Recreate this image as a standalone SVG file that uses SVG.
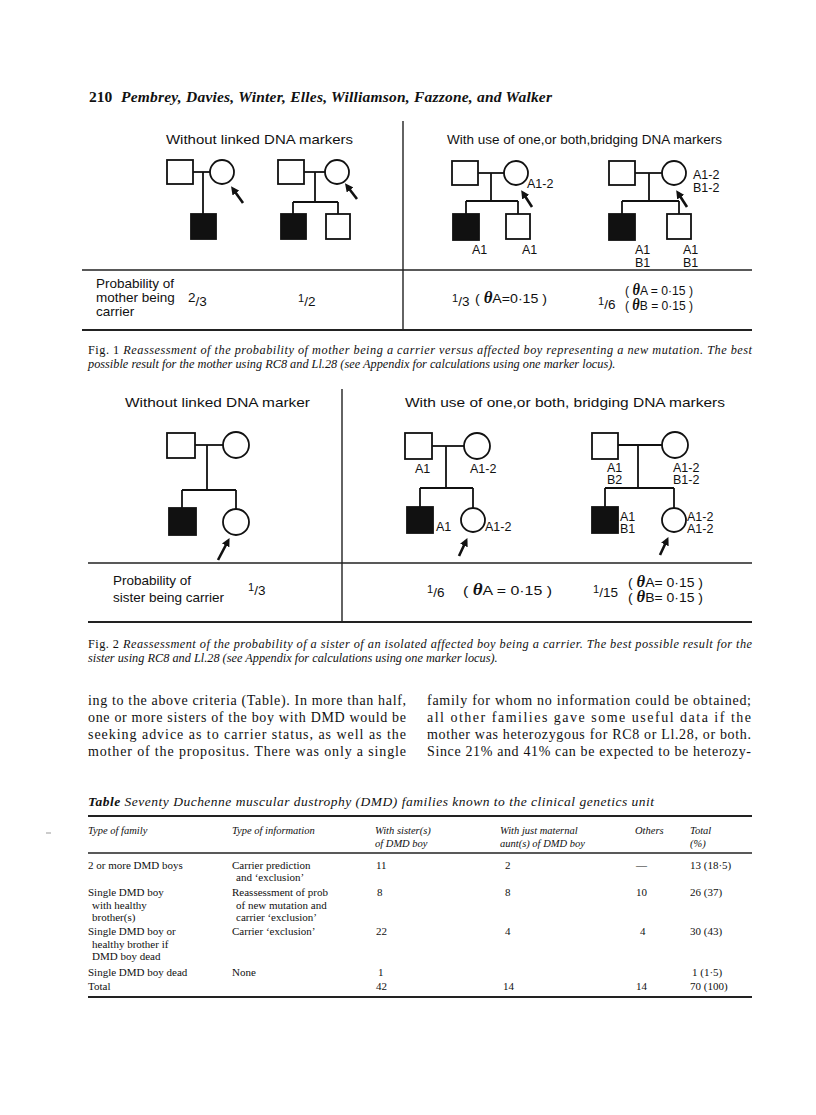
<svg xmlns="http://www.w3.org/2000/svg" width="816" height="1115" viewBox="0 0 816 1115">
<style>
.bg{fill:#ffffff}
.ln{stroke:#111;stroke-width:1.8;fill:none}
.rule{stroke:#222;stroke-width:1.4;fill:none}
.thick{stroke:#222;stroke-width:2;fill:none}
.open{fill:#fff;stroke:#111;stroke-width:1.8}
.fill{fill:#111;stroke:#111;stroke-width:1.8}
.arr{stroke:#111;stroke-width:2.6;fill:none}
.fs{font-family:"Liberation Sans","DejaVu Sans",sans-serif;fill:#111}
.t{font-size:13.5px}
.lab{font-size:12.5px}
.th{font-family:"Liberation Serif","DejaVu Serif",serif;font-style:italic;font-weight:bold;font-size:16px}
.serif{font-family:"Liberation Serif","DejaVu Serif",serif;fill:#111}
.cap{font-size:12.3px;font-style:italic}
.body{font-size:14px}
.tb{font-size:11px}
.tbh{font-size:10.5px;font-style:italic}
</style>
<defs>
<marker id="ah" viewBox="0 0 10 10" refX="6" refY="5" markerWidth="3.2" markerHeight="3.2" orient="auto" markerUnits="strokeWidth">
<path d="M0,0 L10,5 L0,10 z" fill="#111"/>
</marker>
</defs>
<rect class="bg" x="0" y="0" width="816" height="1115"/>

<g id="header">
<text class="serif" x="89" y="102" font-size="15.5" font-weight="bold">210</text>
<text class="serif" x="121" y="102" font-size="15.5" font-weight="bold" font-style="italic" textLength="431" lengthAdjust="spacing">Pembrey, Davies, Winter, Elles, Williamson, Fazzone, and Walker</text>
</g>

<!-- Figure 1 frame -->
<g id="fig1-frame">
<line class="rule" x1="403" y1="121" x2="403" y2="331"/>
<line class="rule" x1="82" y1="270" x2="752" y2="270"/>
<line class="thick" x1="82" y1="330" x2="752" y2="330"/>
</g>
<g id="fig1-titles">
<text class="fs t" x="166" y="144" textLength="187" lengthAdjust="spacingAndGlyphs">Without linked DNA markers</text>
<text class="fs t" x="447" y="144" textLength="275" lengthAdjust="spacingAndGlyphs">With use of one,or both,bridging DNA markers</text>
</g>

<g id="connectors">
<!-- P1 -->
<line class="ln" x1="193" y1="172" x2="210" y2="172"/>
<line class="ln" x1="203" y1="172" x2="203" y2="214"/>
<!-- P2 -->
<line class="ln" x1="304" y1="172" x2="325" y2="172"/>
<line class="ln" x1="315" y1="172" x2="315" y2="202"/>
<line class="ln" x1="293" y1="202" x2="338" y2="202"/>
<line class="ln" x1="293" y1="202" x2="293" y2="214"/>
<line class="ln" x1="338" y1="202" x2="338" y2="214"/>
<!-- P3 -->
<line class="ln" x1="478" y1="173" x2="504" y2="173"/>
<line class="ln" x1="491" y1="173" x2="491" y2="201"/>
<line class="ln" x1="466" y1="201" x2="518" y2="201"/>
<line class="ln" x1="466" y1="201" x2="466" y2="214"/>
<line class="ln" x1="518" y1="201" x2="518" y2="214"/>
<!-- P4 -->
<line class="ln" x1="635" y1="173" x2="662" y2="173"/>
<line class="ln" x1="649" y1="173" x2="649" y2="201"/>
<line class="ln" x1="622" y1="201" x2="679" y2="201"/>
<line class="ln" x1="622" y1="201" x2="622" y2="214"/>
<line class="ln" x1="679" y1="201" x2="679" y2="214"/>
<!-- P5 -->
<line class="ln" x1="195" y1="445" x2="223" y2="445"/>
<line class="ln" x1="207" y1="445" x2="207" y2="490"/>
<line class="ln" x1="182" y1="490" x2="236" y2="490"/>
<line class="ln" x1="182" y1="490" x2="182" y2="508"/>
<line class="ln" x1="236" y1="490" x2="236" y2="509"/>
<!-- P6 -->
<line class="ln" x1="432" y1="446" x2="464" y2="446"/>
<line class="ln" x1="446" y1="446" x2="446" y2="488"/>
<line class="ln" x1="420" y1="488" x2="473" y2="488"/>
<line class="ln" x1="420" y1="488" x2="420" y2="507"/>
<line class="ln" x1="473" y1="488" x2="473" y2="508"/>
<!-- P7 -->
<line class="ln" x1="618" y1="445" x2="662" y2="445"/>
<line class="ln" x1="638" y1="445" x2="638" y2="488"/>
<line class="ln" x1="605" y1="488" x2="674" y2="488"/>
<line class="ln" x1="605" y1="488" x2="605" y2="507"/>
<line class="ln" x1="674" y1="488" x2="674" y2="508"/>
<!-- arrows -->
<line class="arr" x1="243" y1="203" x2="233" y2="189" marker-end="url(#ah)"/>
<line class="arr" x1="357" y1="199" x2="347" y2="186" marker-end="url(#ah)"/>
<line class="arr" x1="532" y1="207" x2="523" y2="193" marker-end="url(#ah)"/>
<line class="arr" x1="687" y1="207" x2="678" y2="193" marker-end="url(#ah)"/>
<line class="arr" x1="218" y1="560" x2="228" y2="541" marker-end="url(#ah)"/>
<line class="arr" x1="459" y1="556" x2="466" y2="541" marker-end="url(#ah)"/>
<line class="arr" x1="660" y1="555" x2="667" y2="540" marker-end="url(#ah)"/>
</g>

<g id="ped1">
<rect class="open" x="167" y="160" width="26" height="24"/>
<circle class="open" cx="222" cy="172" r="12"/>
<rect class="fill" x="191" y="214" width="25" height="25"/>
</g>
<g id="ped2">
<rect class="open" x="278" y="160" width="26" height="24"/>
<circle class="open" cx="337" cy="172" r="12"/>
<rect class="fill" x="281" y="214" width="25" height="25"/>
<rect class="open" x="326" y="214" width="24" height="25"/>
</g>
<g id="ped3">
<rect class="open" x="452" y="161" width="26" height="24"/>
<circle class="open" cx="516" cy="173" r="12"/>
<rect class="fill" x="453" y="214" width="26" height="26"/>
<rect class="open" x="506" y="214" width="24" height="25"/>
<text class="fs lab" x="527" y="188">A1-2</text>
<text class="fs lab" x="472" y="254">A1</text>
<text class="fs lab" x="522" y="254">A1</text>
</g>
<g id="ped4">
<rect class="open" x="609" y="161" width="26" height="24"/>
<circle class="open" cx="674" cy="173" r="12"/>
<rect class="fill" x="609" y="214" width="26" height="26"/>
<rect class="open" x="667" y="214" width="24" height="25"/>
<text class="fs lab" x="693" y="179">A1-2</text>
<text class="fs lab" x="693" y="192">B1-2</text>
<text class="fs lab" x="635" y="254">A1</text>
<text class="fs lab" x="635" y="267">B1</text>
<text class="fs lab" x="683" y="254">A1</text>
<text class="fs lab" x="683" y="267">B1</text>
</g>

<g id="fig1-probabilities">
<text class="fs t" x="96" y="288">Probability of</text>
<text class="fs t" x="96" y="302">mother being</text>
<text class="fs t" x="96" y="316">carrier</text>
<text class="fs t" x="188" y="302">2<tspan dy="4">/3</tspan></text>
<text class="fs t" x="298" y="306"><tspan font-size="11" dy="-4">1</tspan><tspan dy="4">/2</tspan></text>
<text class="fs t" x="452" y="306"><tspan font-size="11" dy="-4">1</tspan><tspan dy="4">/3</tspan></text>
<text class="fs t" x="475" y="303" textLength="72" lengthAdjust="spacingAndGlyphs">( <tspan class="th">θ</tspan>A=0·15 )</text>
<text class="fs t" x="598" y="309"><tspan font-size="11" dy="-4">1</tspan><tspan dy="4">/6</tspan></text>
<text class="fs t" x="625" y="295" textLength="68" lengthAdjust="spacingAndGlyphs">( <tspan class="th">θ</tspan>A = 0·15 )</text>
<text class="fs t" x="625" y="310" textLength="68" lengthAdjust="spacingAndGlyphs">( <tspan class="th">θ</tspan>B = 0·15 )</text>
</g>

<g id="fig1-caption">
<text class="serif cap" x="88" y="354" textLength="664" lengthAdjust="spacing"><tspan font-style="normal">Fig. 1</tspan>   Reassessment of the probability of mother being a carrier versus affected boy representing a new mutation. The best</text>
<text class="serif cap" x="88" y="368">possible result for the mother using RC8 and Ll.28 (see Appendix for calculations using one marker locus).</text>
</g>

<!-- Figure 2 frame -->
<g id="fig2-frame">
<line class="rule" x1="342" y1="389" x2="342" y2="623"/>
<line class="rule" x1="88" y1="563" x2="752" y2="563"/>
<line class="thick" x1="88" y1="622" x2="752" y2="622"/>
</g>
<g id="fig2-titles">
<text class="fs t" x="125" y="407" textLength="185" lengthAdjust="spacingAndGlyphs">Without linked DNA marker</text>
<text class="fs t" x="405" y="407" textLength="320" lengthAdjust="spacingAndGlyphs">With use of one,or both, bridging DNA markers</text>
</g>

<g id="ped5">
<rect class="open" x="167" y="433" width="28" height="25"/>
<circle class="open" cx="236" cy="445" r="13"/>
<rect class="fill" x="169" y="508" width="27" height="27"/>
<circle class="open" cx="236" cy="522" r="13"/>
</g>
<g id="ped6">
<rect class="open" x="405" y="433" width="27" height="26"/>
<circle class="open" cx="477" cy="446" r="13"/>
<rect class="fill" x="407" y="507" width="26" height="26"/>
<circle class="open" cx="473" cy="520" r="12"/>
<text class="fs lab" x="415" y="473">A1</text>
<text class="fs lab" x="470" y="473">A1-2</text>
<text class="fs lab" x="436" y="531">A1</text>
<text class="fs lab" x="485" y="531">A1-2</text>
</g>
<g id="ped7">
<rect class="open" x="592" y="433" width="26" height="26"/>
<circle class="open" cx="675" cy="445" r="13"/>
<rect class="fill" x="592" y="507" width="26" height="26"/>
<circle class="open" cx="674" cy="520" r="12"/>
<text class="fs lab" x="607" y="472">A1</text>
<text class="fs lab" x="607" y="484">B2</text>
<text class="fs lab" x="673" y="472">A1-2</text>
<text class="fs lab" x="673" y="484">B1-2</text>
<text class="fs lab" x="620" y="521">A1</text>
<text class="fs lab" x="620" y="533">B1</text>
<text class="fs lab" x="687" y="521">A1-2</text>
<text class="fs lab" x="687" y="533">A1-2</text>
</g>

<g id="fig2-probabilities">
<text class="fs t" x="113" y="585">Probability of</text>
<text class="fs t" x="113" y="602">sister being carrier</text>
<text class="fs t" x="248" y="595"><tspan font-size="11" dy="-4">1</tspan><tspan dy="4">/3</tspan></text>
<text class="fs t" x="427" y="597"><tspan font-size="11" dy="-4">1</tspan><tspan dy="4">/6</tspan></text>
<text class="fs t" x="463" y="595" textLength="89" lengthAdjust="spacingAndGlyphs">(  <tspan class="th">θ</tspan>A = 0·15 )</text>
<text class="fs t" x="593" y="597"><tspan font-size="11" dy="-4">1</tspan><tspan dy="4">/15</tspan></text>
<text class="fs t" x="628" y="587" textLength="75" lengthAdjust="spacingAndGlyphs">( <tspan class="th">θ</tspan>A= 0·15 )</text>
<text class="fs t" x="628" y="602" textLength="75" lengthAdjust="spacingAndGlyphs">( <tspan class="th">θ</tspan>B= 0·15 )</text>
</g>

<g id="fig2-caption">
<text class="serif cap" x="88" y="648" textLength="664" lengthAdjust="spacing"><tspan font-style="normal">Fig. 2</tspan>   Reassessment of the probability of a sister of an isolated affected boy being a carrier. The best possible result for the</text>
<text class="serif cap" x="88" y="662">sister using RC8 and Ll.28 (see Appendix for calculations using one marker locus).</text>
</g>

<g id="body-text">
<text class="serif body" x="88" y="705" textLength="318" lengthAdjust="spacing">ing to the above criteria (Table). In more than half,</text>
<text class="serif body" x="88" y="722" textLength="318" lengthAdjust="spacing">one or more sisters of the boy with DMD would be</text>
<text class="serif body" x="88" y="739" textLength="318" lengthAdjust="spacing">seeking advice as to carrier status, as well as the</text>
<text class="serif body" x="88" y="756" textLength="318" lengthAdjust="spacing">mother of the propositus. There was only a single</text>
<text class="serif body" x="427" y="705" textLength="324" lengthAdjust="spacing">family for whom no information could be obtained;</text>
<text class="serif body" x="427" y="722" textLength="324" lengthAdjust="spacing">all other families gave some useful data if the</text>
<text class="serif body" x="427" y="739" textLength="324" lengthAdjust="spacing">mother was heterozygous for RC8 or Ll.28, or both.</text>
<text class="serif body" x="427" y="756" textLength="324" lengthAdjust="spacing">Since 21% and 41% can be expected to be heterozy-</text>
</g>

<g id="table">
<text class="serif" x="88" y="806" font-size="13.5" font-style="italic" textLength="566" lengthAdjust="spacing"><tspan font-weight="bold">Table</tspan>   Seventy Duchenne muscular dustrophy (DMD) families known to the clinical genetics unit</text>
<line class="thick" x1="88" y1="816" x2="752" y2="816"/>
<line x1="46" y1="833" x2="51" y2="833" stroke="#999" stroke-width="1"/>
<text class="serif tbh" x="88" y="834">Type of family</text>
<text class="serif tbh" x="232" y="834">Type of information</text>
<text class="serif tbh" x="375" y="834">With sister(s)</text>
<text class="serif tbh" x="375" y="847">of DMD boy</text>
<text class="serif tbh" x="500" y="834">With just maternal</text>
<text class="serif tbh" x="500" y="847">aunt(s) of DMD boy</text>
<text class="serif tbh" x="635" y="834">Others</text>
<text class="serif tbh" x="690" y="834">Total</text>
<text class="serif tbh" x="690" y="847">(%)</text>
<line class="rule" x1="88" y1="853" x2="752" y2="853" stroke-width="1"/>

<text class="serif tb" x="88" y="869">2 or more DMD boys</text>
<text class="serif tb" x="232" y="869">Carrier prediction</text>
<text class="serif tb" x="236" y="881">and ‘exclusion’</text>
<text class="serif tb" x="376" y="869">11</text>
<text class="serif tb" x="505" y="869">2</text>
<text class="serif tb" x="636" y="869">—</text>
<text class="serif tb" x="690" y="869">13 (18·5)</text>

<text class="serif tb" x="88" y="896">Single DMD boy</text>
<text class="serif tb" x="92" y="909">with healthy</text>
<text class="serif tb" x="92" y="921">brother(s)</text>
<text class="serif tb" x="232" y="896">Reassessment of prob</text>
<text class="serif tb" x="236" y="909">of new mutation and</text>
<text class="serif tb" x="236" y="921">carrier ‘exclusion’</text>
<text class="serif tb" x="377" y="896">8</text>
<text class="serif tb" x="505" y="896">8</text>
<text class="serif tb" x="636" y="896">10</text>
<text class="serif tb" x="690" y="896">26 (37)</text>

<text class="serif tb" x="88" y="935">Single DMD boy or</text>
<text class="serif tb" x="92" y="948">healthy brother if</text>
<text class="serif tb" x="92" y="960">DMD boy dead</text>
<text class="serif tb" x="232" y="935">Carrier ‘exclusion’</text>
<text class="serif tb" x="376" y="935">22</text>
<text class="serif tb" x="505" y="935">4</text>
<text class="serif tb" x="640" y="935">4</text>
<text class="serif tb" x="690" y="935">30 (43)</text>

<text class="serif tb" x="88" y="976">Single DMD boy dead</text>
<text class="serif tb" x="232" y="976">None</text>
<text class="serif tb" x="378" y="976">1</text>
<text class="serif tb" x="692" y="976">1 (1·5)</text>

<text class="serif tb" x="88" y="990">Total</text>
<text class="serif tb" x="376" y="990">42</text>
<text class="serif tb" x="503" y="990">14</text>
<text class="serif tb" x="636" y="990">14</text>
<text class="serif tb" x="690" y="990">70 (100)</text>
<line class="thick" x1="88" y1="997" x2="752" y2="997"/>
</g>
</svg>
